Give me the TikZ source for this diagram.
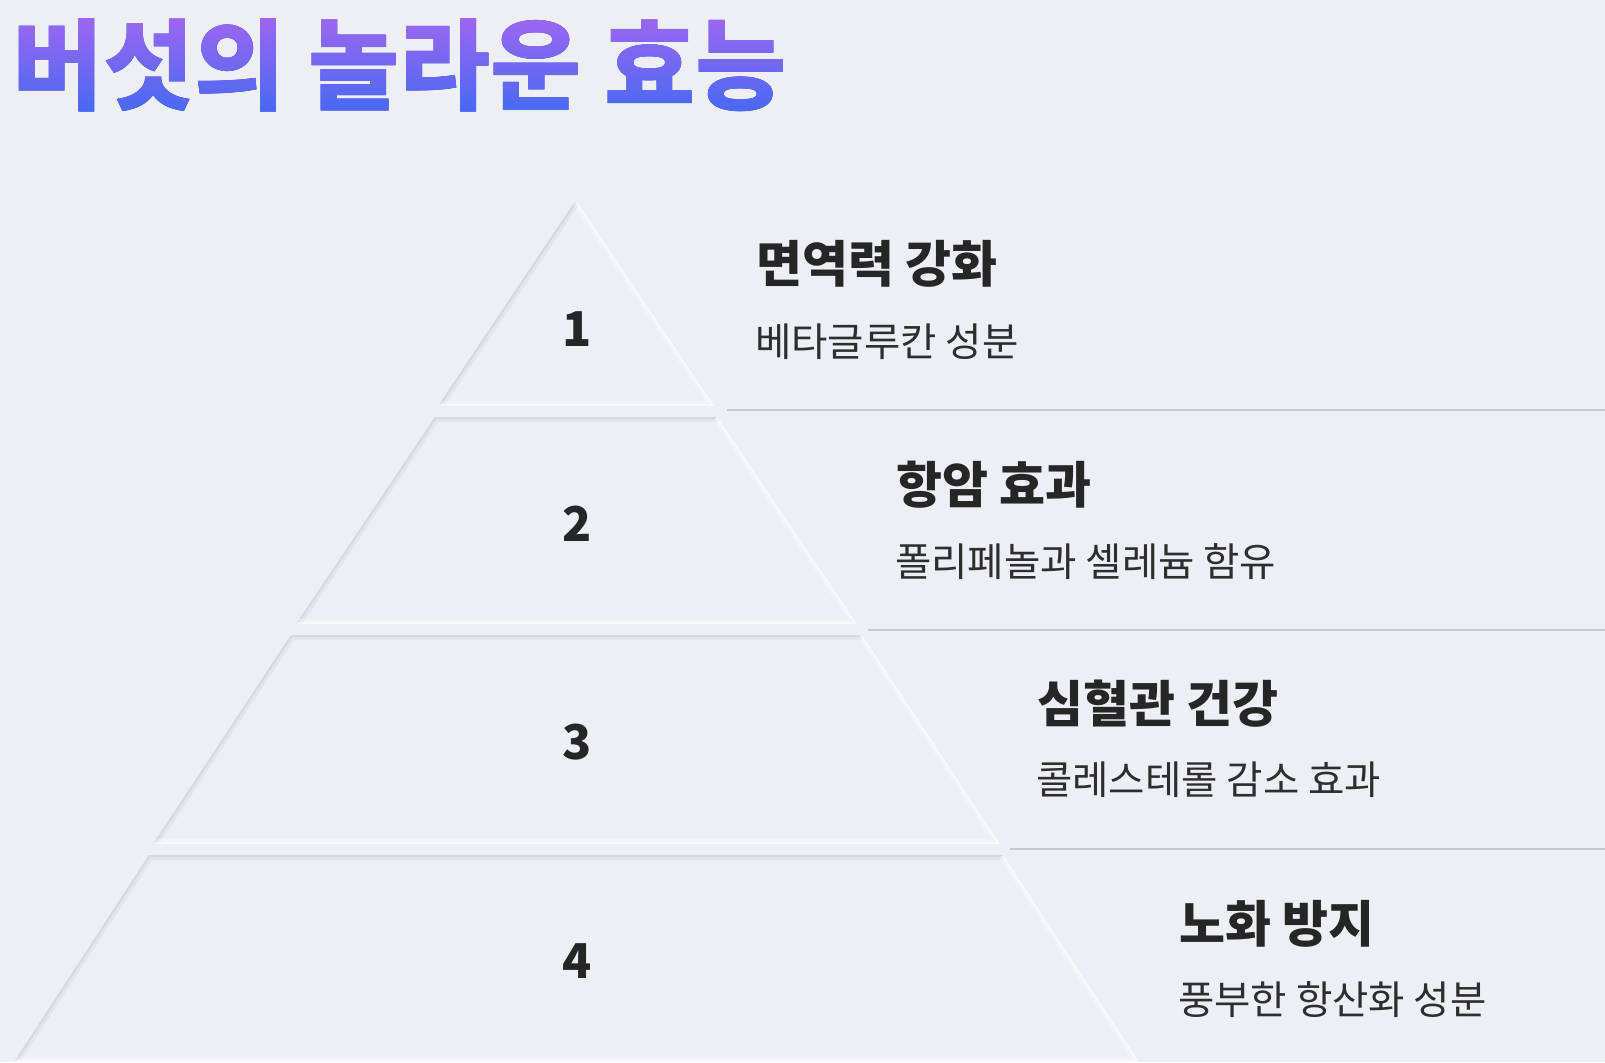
\documentclass[tikz,border=0pt]{standalone}
\usepackage{fontspec}
\setmainfont{Noto Sans CJK KR}
\newfontfamily\headfont{Noto Sans CJK KR}
\newfontfamily\subfont{Noto Sans CJK KR}
\newfontfamily\titlefont{Noto Sans CJK KR}
\newfontfamily\numfont{Noto Sans CJK KR}
\definecolor{bgc}{HTML}{EEEFF4}
\definecolor{inkc}{HTML}{262626}
\definecolor{subc}{HTML}{2E2E2E}
\definecolor{sepc}{HTML}{C8C9D5}
\definecolor{shadc}{HTML}{D2D4DD}
\definecolor{titletop}{HTML}{A066F0}
\definecolor{titlebot}{HTML}{3D6AF2}
\tikzset{
  titletext/.style={anchor=north west, inner sep=0pt, text=black, font=\titlefont\bfseries\fontsize{99pt}{116pt}\selectfont},
  headtext/.style={anchor=north west, inner sep=0pt, text=inkc, font=\headfont\bfseries\fontsize{50pt}{60pt}\selectfont},
  subtext/.style={anchor=north west, inner sep=0pt, text=subc, font=\subfont\fontsize{39.5pt}{46pt}\selectfont},
  numtext/.style={anchor=center, inner sep=0pt, text=inkc, font=\numfont\bfseries\fontsize{48pt}{58pt}\selectfont},
  sepline/.style={draw=sepc, line width=2pt},
  shadowwide/.style={draw=shadc, line width=10pt, opacity=0.35, line join=round},
  shadownarrow/.style={draw=shadc, line width=4pt, opacity=0.7, line join=round},
  lightwide/.style={draw=white, line width=10pt, opacity=0.25, line join=round},
  lightnarrow/.style={draw=white, line width=4pt, opacity=0.55, line join=round},
}
\newcommand\tieredges[4]{%
  \begin{scope}
    \clip (#1) -- (#2) -- (#3) -- (#4) -- cycle;
    \draw[shadowwide] (#4) -- (#1) -- (#2);
    \draw[shadownarrow] (#4) -- (#1) -- (#2);
    \draw[lightwide] (#2) -- (#3) -- (#4);
    \draw[lightnarrow] (#2) -- (#3) -- (#4);
  \end{scope}}
\begin{document}
\begin{tikzpicture}[x=1pt,y=-1pt]
  \useasboundingbox (0,0) rectangle (1605,1062);
  \fill[bgc] (0,0) rectangle (1605,1062);

  % title with vertical gradient (black text lightened by a shaded overlay)
  \node[titletext] (title) at (12,19) {버섯의 놀라운 효능};
  \begin{scope}[blend mode=lighten]
    \shade[top color=titletop, bottom color=titlebot] (0,14) rectangle (830,122);
  \end{scope}

  % pyramid corners
  \coordinate (A1) at (576,200);
  \coordinate (B1L) at (438,406);
  \coordinate (B1R) at (714,406);
  \coordinate (T2L) at (435,417);
  \coordinate (T2R) at (717,417);
  \coordinate (B2L) at (296,624);
  \coordinate (B2R) at (857,624);
  \coordinate (T3L) at (291,635);
  \coordinate (T3R) at (862,635);
  \coordinate (B3L) at (153,844);
  \coordinate (B3R) at (1000,844);
  \coordinate (T4L) at (149,855);
  \coordinate (T4R) at (1003,855);
  \coordinate (B4L) at (14,1062);
  \coordinate (B4R) at (1139,1062);

  \tieredges{A1}{A1}{B1R}{B1L}
  \tieredges{T2L}{T2R}{B2R}{B2L}
  \tieredges{T3L}{T3R}{B3R}{B3L}
  \tieredges{T4L}{T4R}{B4R}{B4L}

  % separator lines
  \coordinate (s1a) at (727,410);  \coordinate (s1b) at (1605,410);
  \coordinate (s2a) at (868,630);  \coordinate (s2b) at (1605,630);
  \coordinate (s3a) at (1010,849); \coordinate (s3b) at (1605,849);
  \draw[sepline] (s1a) -- (s1b);
  \draw[sepline] (s2a) -- (s2b);
  \draw[sepline] (s3a) -- (s3b);

  % numbers
  \node[numtext] (n1) at (577,329) {1};
  \node[numtext] (n2) at (577,524) {2};
  \node[numtext] (n3) at (577,742) {3};
  \node[numtext] (n4) at (577,961) {4};

  % headings and descriptions
  \node[headtext] (h1) at (756,240) {면역력 강화};
  \node[subtext]  (d1) at (755,324) {베타글루칸 성분};
  \node[headtext] (h2) at (896,461) {항암 효과};
  \node[subtext]  (d2) at (895,543) {폴리페놀과 셀레늄 함유};
  \node[headtext] (h3) at (1037,680) {심혈관 건강};
  \node[subtext]  (d3) at (1036,762) {콜레스테롤 감소 효과};
  \node[headtext] (h4) at (1179,900) {노화 방지};
  \node[subtext]  (d4) at (1178,981) {풍부한 항산화 성분};
\end{tikzpicture}
\end{document}
